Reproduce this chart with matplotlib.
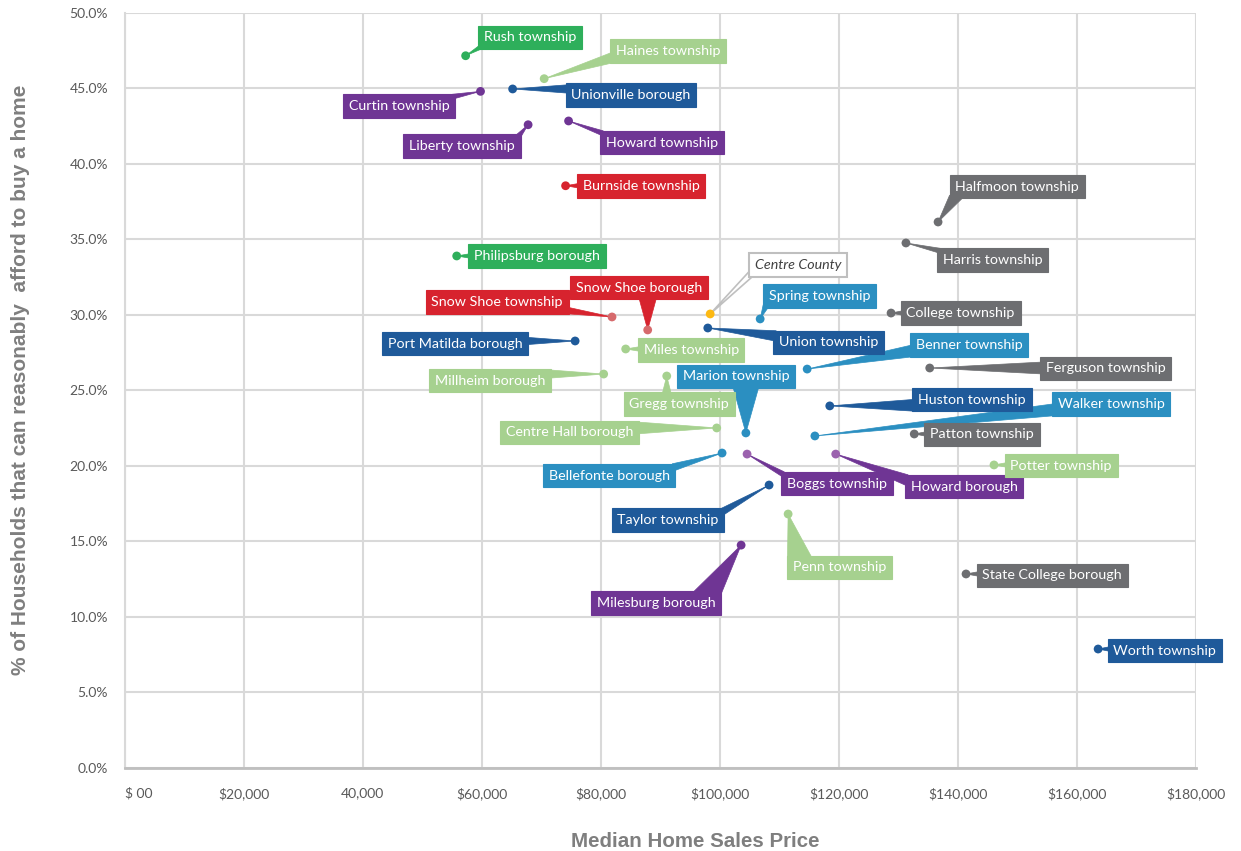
import numpy as np
import matplotlib
matplotlib.use("Agg")
import matplotlib.pyplot as plt
from matplotlib.patches import Polygon

# ---- data -------------------------------------------------------------
names = [
    "Rush township", "Haines township", "Curtin township", "Unionville borough",
    "Liberty township", "Howard township", "Burnside township", "Halfmoon township",
    "Harris township", "Philipsburg borough", "Centre County", "Spring township",
    "College township", "Snow Shoe township", "Snow Shoe borough", "Union township",
    "Port Matilda borough", "Miles township", "Benner township", "Ferguson township",
    "Millheim borough", "Gregg township", "Huston township", "Centre Hall borough",
    "Marion township", "Walker township", "Patton township", "Bellefonte borough",
    "Boggs township", "Howard borough", "Potter township", "Taylor township",
    "Penn township", "Milesburg borough", "State College borough", "Worth township",
]
median_price = [
    57300, 70500, 59800, 65200, 67800, 74600, 74100, 136700,
    131300, 55800, 98400, 106800, 128800, 81900, 87900, 98000,
    75700, 84200, 114700, 135300, 80500, 91100, 118500, 99500,
    104400, 116000, 132700, 100400, 104600, 119500, 146100, 108300,
    111500, 103600, 141400, 163600,
]
pct_afford = [
    47.15, 45.63, 44.79, 44.95, 42.58, 42.83, 38.54, 36.14,
    34.75, 33.89, 30.05, 29.72, 30.11, 29.85, 28.99, 29.12,
    28.26, 27.73, 26.40, 26.47, 26.07, 25.94, 23.96, 22.50,
    22.17, 21.97, 22.10, 20.84, 20.77, 20.77, 20.05, 18.72,
    16.80, 14.74, 12.83, 7.86,
]
group = [
    "green", "lightgreen", "purple", "navy", "purple", "purple", "red", "gray",
    "gray", "green", "county", "blue", "gray", "red", "red", "navy",
    "navy", "lightgreen", "blue", "gray", "lightgreen", "lightgreen", "navy", "lightgreen",
    "blue", "blue", "gray", "blue", "purple", "purple", "lightgreen", "navy",
    "lightgreen", "purple", "gray", "navy",
]

x_ticks = [0, 20000, 40000, 60000, 80000, 100000, 120000, 140000, 160000, 180000]
x_tick_labels = ["$ 00", "$20,000", "40,000", "$60,000", "$80,000", "$100,000",
                 "$120,000", "$140,000", "$160,000", "$180,000"]
y_ticks = [0, 5, 10, 15, 20, 25, 30, 35, 40, 45, 50]

# ---- layout of the callout boxes (centre, data units) -----------------
label_x = [
    68100, 91300, 46100, 85100, 56700, 90300, 86800, 150000,
    145900, 69300, 113200, 116800, 140500, 62600, 86400, 118300,
    55500, 95200, 141900, 164900, 61400, 93200, 142400, 74800,
    102800, 165800, 144100, 81400, 119700, 141100, 157400, 91300,
    120200, 89300, 155900, 174800,
]
label_y = [
    48.36, 47.46, 43.82, 44.55, 41.17, 41.40, 38.52, 38.49,
    33.62, 33.89, 33.29, 31.23, 30.11, 30.84, 31.80, 28.16,
    28.09, 27.66, 27.99, 26.44, 25.64, 24.09, 24.38, 22.20,
    25.91, 24.09, 22.07, 19.35, 18.82, 18.62, 20.01, 16.40,
    13.26, 10.91, 12.73, 7.76,
]

# ---- styles -----------------------------------------------------------
box_colors = {
    "green": "#2EAF5B", "lightgreen": "#A6D18F", "purple": "#6F3594",
    "navy": "#1F5A9A", "red": "#D7232E", "gray": "#6D6E71",
    "blue": "#2B8FC1", "county": "#FFFFFF",
}
dot_override = {
    "Snow Shoe township": "#D66A6C", "Snow Shoe borough": "#D66A6C",
    "Boggs township": "#9B62AE", "Howard borough": "#9B62AE",
    "Centre County": "#FDB913",
}

plt.rcParams["font.family"] = ["Lato", "DejaVu Sans"]

fig = plt.figure(figsize=(12.41, 8.51), dpi=100)
ax = fig.add_axes([124.7 / 1241, 1 - 767.7 / 851, (1195.7 - 124.7) / 1241,
                   (767.7 - 12.7) / 851])

ax.set_xlim(0, 180000)
ax.set_ylim(0, 50)
ax.set_xticks(x_ticks)
ax.set_xticklabels(x_tick_labels, fontsize=10, color="#595959")
ax.get_xticklabels()[0].set_horizontalalignment("left")
ax.set_yticks(y_ticks)
ax.set_yticklabels([f"{v:.1f}%" for v in y_ticks], fontsize=10, color="#595959")
ax.tick_params(axis="both", length=0)
ax.tick_params(axis="x", pad=14)
ax.tick_params(axis="y", pad=12)
ax.grid(True, color="#D9D9D9", linewidth=1.5)
ax.set_axisbelow(True)
for side in ["top", "right"]:
    ax.spines[side].set_visible(False)
ax.spines["left"].set_color("#D9D9D9")
ax.spines["left"].set_linewidth(1.5)
ax.spines["bottom"].set_color("#BFBFBF")
ax.spines["bottom"].set_linewidth(2)

ax.set_xlabel("Median Home Sales Price", family=["Liberation Sans", "DejaVu Sans"],
              fontsize=14.8, fontweight="bold", color="#7F7F7F")
ax.xaxis.set_label_coords(0.5325, -0.0855)
ax.set_ylabel("% of Households that can reasonably  afford to buy a home",
              family=["Liberation Sans", "DejaVu Sans"], fontsize=15,
              fontweight="bold", color="#7F7F7F")
ax.yaxis.set_label_coords(-0.0885, 0.5135)

# points
dot_colors = [dot_override.get(n, box_colors[g]) for n, g in zip(names, group)]
ax.scatter(median_price, pct_afford, s=40, c=dot_colors, zorder=5, linewidths=0)

# callout boxes
texts = []
for n, g, lx, ly in zip(names, group, label_x, label_y):
    if g == "county":
        t = ax.text(lx, ly, n, ha="center", va="center", fontsize=10.3,
                    style="italic", color="#404040", zorder=6,
                    bbox=dict(boxstyle="square,pad=0.4", fc="white",
                              ec="#BFBFBF", lw=1.5))
    else:
        t = ax.text(lx, ly, n, ha="center", va="center", fontsize=10.3,
                    color="white", zorder=6,
                    bbox=dict(boxstyle="square,pad=0.4", fc=box_colors[g],
                              ec=box_colors[g], lw=0.8))
    texts.append(t)

fig.canvas.draw()
renderer = fig.canvas.get_renderer()
to_data = ax.transData.inverted()

# wedge pointers from each box to its point
for t, g, px, py in zip(texts, group, median_price, pct_afford):
    bb = t.get_bbox_patch().get_window_extent(renderer)
    x0, y0, x1, y1 = bb.x0, bb.y0, bb.x1, bb.y1
    P = ax.transData.transform((px, py))
    cx = min(max(P[0], x0), x1)
    cy = min(max(P[1], y0), y1)
    dx, dy = abs(P[0] - cx), abs(P[1] - cy)
    d = np.hypot(dx, dy)
    if d < 1:
        continue
    if dx > dy:
        w = float(np.clip(0.08 * d, 2.5, 6))
        ya = min(max(cy - w, y0), y1 - 2 * w)
        inset = 3 if cx == x0 else -3
        base = [(cx + inset, ya), (cx + inset, ya + 2 * w)]
    else:
        w = float(np.clip(0.3 * d, 3, 15))
        xa = min(max(cx - w, x0), x1 - 2 * w)
        inset = 3 if cy == y0 else -3
        base = [(xa, cy + inset), (xa + 2 * w, cy + inset)]
    poly_data = to_data.transform(np.array([P, base[0], base[1]]))
    if g == "county":
        poly = Polygon(poly_data, closed=True, fc="white", ec="#BFBFBF",
                       lw=1.2, zorder=4)
    else:
        poly = Polygon(poly_data, closed=True, fc=box_colors[g],
                       ec=box_colors[g], lw=0.5, zorder=4)
    ax.add_patch(poly)

fig.savefig("out.png", dpi=100)
